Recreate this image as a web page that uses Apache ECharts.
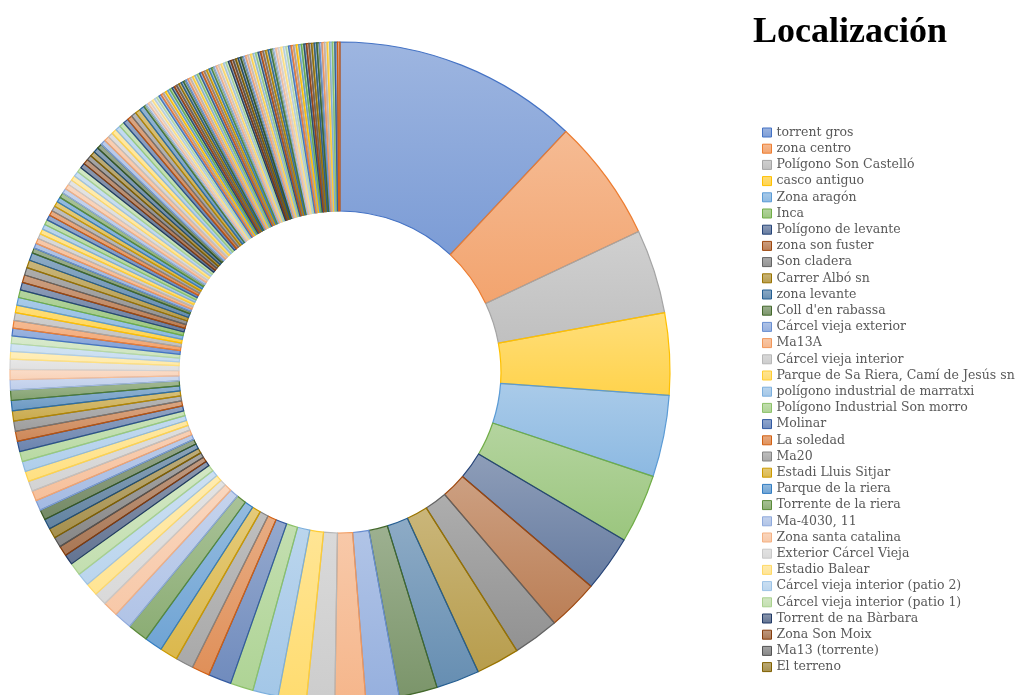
<!DOCTYPE html>
<html><head><meta charset="utf-8">
<script src="https://cdn.jsdelivr.net/npm/echarts@6/dist/echarts.min.js"></script>
<style>html,body{margin:0;padding:0;background:#fff}#c{width:1019px;height:695px}</style>
</head><body><div id="c"></div>
<script>
const chartTitle = 'Localización';
const legendNames = [
  'torrent gros','zona centro','Polígono Son Castelló','casco antiguo','Zona aragón','Inca',
  'Polígono de levante','zona son fuster','Son cladera','Carrer Albó sn','zona levante',"Coll d'en rabassa",
  'Cárcel vieja exterior','Ma13A','Cárcel vieja interior','Parque de Sa Riera, Camí de Jesús sn',
  'polígono industrial de marratxi','Polígono Industrial Son morro','Molinar','La soledad','Ma20',
  'Estadi Lluis Sitjar','Parque de la riera','Torrente de la riera','Ma-4030, 11','Zona santa catalina',
  'Exterior Cárcel Vieja','Estadio Balear','Cárcel vieja interior (patio 2)','Cárcel vieja interior (patio 1)',
  'Torrent de na Bàrbara','Zona Son Moix','Ma13 (torrente)','El terreno'
];
const namedValues = [96,48,33,32,32,27,22,20,18,17,17,15,13,12,11,11,10,9,9,7,7,7,7,8,7,6,5,5,5,5,4,4,4,4];
// remaining (unlisted in legend) locations
const otherValues = [
  4,4,4,4,4,4,4,4,4,4,4,4,4,4,4,4,4,
  3,3,3,3,3,3,3,3,3,3,3,3,3,3,
  2,2,2,2,2,2,2,2,2,2,2,2,2,2,2,2,2,2,2,2,2,2,2,2,2,2,2,2,2,2,2,2,2,2,2,2,
  1,1,1,1,1,1,1,1,1,1,1,1,1,1,1,1,1,1,1,1,1,1,1,1,1,1,1,1,1,1,1,1,1,1,1,1,1,1,1,1,
  1,1,1,1,1,1,1,1,1,1,1,1,1,1,1,1,1,1,1,1,1,1,1,1,1,1,1,1,1,1,1,1,1,1,1,1,1,1,1,1,1
];

const accents = ['#4472C4','#ED7D31','#A5A5A5','#FFC000','#5B9BD5','#70AD47'];
const variations = [[1,0],[0.6,0],[0.8,0.2],[0.8,0],[0.6,0.4],[0.5,0],[0.7,0.3],[0.7,0],[0.5,0.5]];
function hexToRgb(h){h=h.replace('#','');return [parseInt(h.substr(0,2),16),parseInt(h.substr(2,2),16),parseInt(h.substr(4,2),16)];}
function rgbToHsl(r,g,b){r/=255;g/=255;b/=255;const mx=Math.max(r,g,b),mn=Math.min(r,g,b);let h=0,s=0;const l=(mx+mn)/2;
  if(mx!==mn){const d=mx-mn;s=l>0.5?d/(2-mx-mn):d/(mx+mn);
    if(mx===r)h=(g-b)/d+(g<b?6:0);else if(mx===g)h=(b-r)/d+2;else h=(r-g)/d+4;h/=6;}
  return [h,s,l];}
function hue2rgb(p,q,t){if(t<0)t+=1;if(t>1)t-=1;if(t<1/6)return p+(q-p)*6*t;if(t<1/2)return q;if(t<2/3)return p+(q-p)*(2/3-t)*6;return p;}
function hslToRgb(h,s,l){let r,g,b;if(s===0){r=g=b=l;}else{const q=l<0.5?l*(1+s):l+s-l*s;const p=2*l-q;r=hue2rgb(p,q,h+1/3);g=hue2rgb(p,q,h);b=hue2rgb(p,q,h-1/3);}
  return [Math.round(r*255),Math.round(g*255),Math.round(b*255)];}
function colorFor(i){
  const base=hexToRgb(accents[i%6]);const v=variations[Math.floor(i/6)%variations.length];
  const hsl=rgbToHsl(base[0],base[1],base[2]);const l=Math.min(1,hsl[2]*v[0]+v[1]);
  return hslToRgb(hsl[0],hsl[1],l);
}
const allValues = namedValues.concat(otherValues);
const data = allValues.map((v,i)=>{
  const c=colorFor(i);const rgb=c.join(',');
  return {
    name: i<legendNames.length?legendNames[i]:('Localización '+(i+1)),
    value: v,
    itemStyle:{
      color:new echarts.graphic.LinearGradient(0,0,0,1,[
        {offset:0,color:'rgba('+rgb+',0.52)'},
        {offset:1,color:'rgba('+rgb+',0.7)'}
      ]),
      borderColor:'rgb('+rgb+')',
      borderWidth:1.2
    }
  };
});

const chart = echarts.init(document.getElementById('c'), null, {renderer:'canvas'});
chart.setOption({
  animation:false,
  backgroundColor:'#ffffff',
  title:{
    text:chartTitle,
    left:845, top:10, textAlign:'center',
    textStyle:{fontFamily:'Liberation Serif',fontWeight:'bold',fontSize:36,color:'#000000'}
  },
  legend:{
    orient:'vertical',
    left:762, top:126, padding:0,
    itemWidth:9, itemHeight:9, itemGap:3.2,
    icon:'rect',
    data:legendNames,
    selectedMode:false,
    itemStyle:{borderWidth:1},
    textStyle:{fontFamily:'DejaVu Serif',fontSize:12.5,color:'#595959',lineHeight:13}
  },
  series:[{
    type:'pie',
    center:[340,372],
    radius:[161,330],
    startAngle:90,
    clockwise:true,
    avoidLabelOverlap:false,
    label:{show:false},
    labelLine:{show:false},
    emphasis:{disabled:true},
    data:data
  }]
});
</script></body></html>
